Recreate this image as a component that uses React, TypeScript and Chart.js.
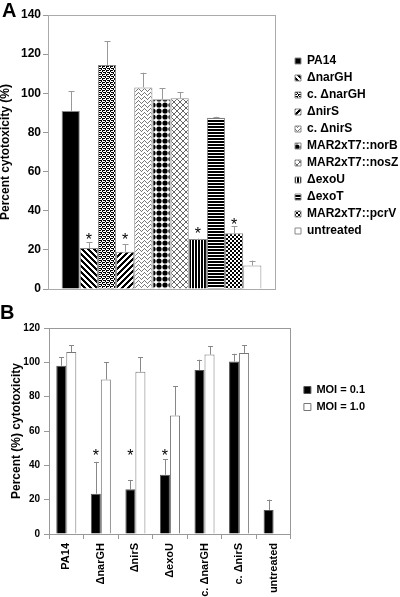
import React, { useEffect, useRef } from 'react';
import { Chart, registerables } from 'chart.js';

Chart.register(...registerables);

const FONT = "'Liberation Sans', Arial, Helvetica, sans-serif";

// ---------- Panel A data ----------
const strainsA = [
  'PA14',
  'ΔnarGH',
  'c. ΔnarGH',
  'ΔnirS',
  'c. ΔnirS',
  'MAR2xT7::norB',
  'MAR2xT7::nosZ',
  'ΔexoU',
  'ΔexoT',
  'MAR2xT7::pcrV',
  'untreated',
];
const cytotoxicityA = [91, 21, 114.5, 19, 103, 97, 97.5, 25.5, 87.5, 28.5, 12];
const errorA = [10, 3, 12, 4, 7.5, 5.5, 3, 0.3, 0.5, 3.5, 2.5];
const starLevelA = [null, 27, null, 27, null, null, null, 30, null, 35, null];
const yMaxA = 140;
const yStepA = 20;

// ---------- Panel B data ----------
const categoriesB = ['PA14', 'ΔnarGH', 'ΔnirS', 'ΔexoU', 'c. ΔnarGH', 'c. ΔnirS', 'untreated'];
const seriesNamesB = ['MOI = 0.1', 'MOI = 1.0'];
const moiLow = [98, 23.5, 26, 34.5, 95.5, 100.5, 14];
const moiLowErr = [5, 18.5, 5.5, 9, 6, 4.5, 6];
const moiHigh = [106, 90, 94.5, 69, 104.5, 105.5, null];
const moiHighErr = [4, 10, 8.5, 17, 5, 4.5, null];
const starLevelB = [null, 48, 48, 48, null, null, null];
const yMaxB = 120;
const yStepB = 20;

// ---------- pattern helpers ----------
function tile(w: number, h: number, draw: (c: CanvasRenderingContext2D) => void): CanvasPattern {
  const cv = document.createElement('canvas');
  cv.width = w;
  cv.height = h;
  const c = cv.getContext('2d')!;
  c.fillStyle = '#fff';
  c.fillRect(0, 0, w, h);
  draw(c);
  return c.createPattern(cv, 'repeat')!;
}

function fromRows(rows: string[], color = '#000'): CanvasPattern {
  const h = rows.length;
  const w = rows[0].length;
  return tile(w, h, (c) => {
    c.fillStyle = color;
    rows.forEach((r, y) => {
      for (let x = 0; x < w; x++) if (r[x] === 'X') c.fillRect(x, y, 1, 1);
    });
  });
}

function makeFills(): (string | CanvasPattern)[] {
  const back: string[] = [];
  const fwd: string[] = [];
  for (let y = 0; y < 6; y++) {
    let a = '';
    let b = '';
    for (let x = 0; x < 6; x++) {
      a += ((x - y + 12) % 6) < 3 ? 'X' : '.';
      b += ((x + y) % 6) < 3 ? 'X' : '.';
    }
    back.push(a);
    fwd.push(b);
  }
  const confetti = fromRows(['XX.X', '.X..', 'X.XX', '..X.']);
  const zigzag = fromRows(['X.....', '.X...X', '..X.X.', '...X..'], '#777');
  const dots = tile(6, 6, (c) => {
    c.fillStyle = '#000';
    c.beginPath();
    c.arc(3, 3, 2.6, 0, Math.PI * 2);
    c.fill();
  });
  const cross = fromRows(['X....X', '.X..X.', '..XX..', '..XX..', '.X..X.', 'X....X'], '#666');
  const vert = fromRows(['XX.']);
  const horiz = fromRows(['X', 'X', '.']);
  const checker = fromRows(['XX..', 'XX..', '..XX', '..XX']);
  return [
    '#000',
    fromRows(back),
    confetti,
    fromRows(fwd),
    zigzag,
    dots,
    cross,
    vert,
    horiz,
    checker,
    '#fff',
  ];
}

function makeErrorPlugin(
  errs: (number | null)[][],
  stars: (number | null)[][],
  color: string,
  cap: number
) {
  return {
    id: 'errorBarsAndStars',
    afterDatasetsDraw(chart: any) {
      const { ctx } = chart;
      const yScale = chart.scales.y;
      ctx.save();
      chart.data.datasets.forEach((ds: any, di: number) => {
        const meta = chart.getDatasetMeta(di);
        meta.data.forEach((bar: any, j: number) => {
          const v = ds.data[j];
          if (v == null) return;
          const e = errs[di]?.[j];
          if (e) {
            const top = yScale.getPixelForValue(v + e);
            const x = Math.round(bar.x) + 0.5;
            ctx.strokeStyle = color;
            ctx.lineWidth = 1;
            ctx.beginPath();
            ctx.moveTo(x, bar.y);
            ctx.lineTo(x, top);
            ctx.moveTo(x - cap, Math.round(top) + 0.5);
            ctx.lineTo(x + cap, Math.round(top) + 0.5);
            ctx.stroke();
          }
          const s = stars[di]?.[j];
          if (s != null) {
            ctx.fillStyle = '#000';
            ctx.font = `16px ${FONT}`;
            ctx.textAlign = 'center';
            ctx.textBaseline = 'alphabetic';
            ctx.fillText('*', bar.x, yScale.getPixelForValue(s) + 9);
          }
        });
      });
      ctx.restore();
    },
  };
}

const bold = (size: number, lineHeight?: number) =>
  lineHeight ? { family: FONT, size, weight: 'bold' as const, lineHeight } : { family: FONT, size, weight: 'bold' as const };

export default function App() {
  const refA = useRef<HTMLCanvasElement>(null);
  const refB = useRef<HTMLCanvasElement>(null);

  useEffect(() => {
    const fills = makeFills();

    const chartA = new Chart(refA.current!, {
      type: 'bar',
      data: {
        labels: [''],
        datasets: strainsA.map((name, i) => ({
          label: name,
          data: [cytotoxicityA[i]],
          backgroundColor: fills[i] as any,
          borderColor: '#888',
          borderWidth: 1,
          xAxisID: 'x',
          yAxisID: 'y',
          categoryPercentage: 0.88,
          barPercentage: 1,
        })),
      },
      options: {
        responsive: false,
        animation: false,
        devicePixelRatio: 1,
        layout: { padding: 0 },
        plugins: {
          tooltip: { enabled: false },
          legend: {
            position: 'right',
            align: 'start',
            maxWidth: 110,
            title: { display: true, text: ' ', font: { size: 10, lineHeight: 1 }, padding: { top: 40, bottom: 0 } },
            labels: { boxWidth: 6, boxHeight: 6, padding: 5, color: '#000', font: bold(12) },
          },
        },
        scales: {
          x: {
            axis: 'x',
            type: 'category',
            position: 'bottom',
            grid: { display: false },
            ticks: { display: false },
            border: { display: true, color: '#aaa' },
            afterFit: (s: any) => { s.height = 11; },
          },
          xTop: {
            axis: 'x',
            type: 'category',
            position: 'top',
            grid: { display: false },
            ticks: { display: false },
            border: { display: true, color: '#aaa' },
            afterFit: (s: any) => { s.height = 15; },
          },
          y: {
            axis: 'y',
            position: 'left',
            min: 0,
            max: yMaxA,
            ticks: { stepSize: yStepA, color: '#000', font: bold(12), padding: 2 },
            grid: { drawOnChartArea: false, tickLength: 5, color: '#999' },
            border: { color: '#aaa' },
            title: {
              display: true,
              text: 'Percent cytotoxicity (%)',
              color: '#000',
              font: bold(12, 1),
              padding: { top: 0, bottom: 0 },
            },
            afterFit: (s: any) => { s.width = 48; },
          },
          yRight: {
            axis: 'y',
            position: 'right',
            grid: { display: false },
            ticks: { display: false },
            border: { display: true, color: '#aaa' },
            afterFit: (s: any) => { s.width = 15; },
          },
        },
      } as any,
      plugins: [
        makeErrorPlugin(
          errorA.map((e) => [e]),
          starLevelA.map((s) => [s]),
          '#999',
          3
        ),
      ],
    });

    const chartB = new Chart(refB.current!, {
      type: 'bar',
      data: {
        labels: categoriesB,
        datasets: [
          {
            label: seriesNamesB[0],
            data: moiLow,
            backgroundColor: '#000',
            borderColor: '#555',
            borderWidth: 1,
            xAxisID: 'x',
            yAxisID: 'y',
            categoryPercentage: 0.58,
            barPercentage: 1,
          },
          {
            label: seriesNamesB[1],
            data: moiHigh,
            backgroundColor: '#fff',
            borderColor: '#777',
            borderWidth: 1,
            xAxisID: 'x',
            yAxisID: 'y',
            categoryPercentage: 0.58,
            barPercentage: 1,
          },
        ],
      },
      options: {
        responsive: false,
        animation: false,
        devicePixelRatio: 1,
        layout: { padding: { right: 25, left: 0, top: 0, bottom: 0 } },
        plugins: {
          tooltip: { enabled: false },
          legend: {
            position: 'right',
            align: 'start',
            maxWidth: 200,
            title: { display: true, text: ' ', font: { size: 10, lineHeight: 1 }, padding: { top: 68.5, bottom: 0 } },
            labels: { boxWidth: 7, boxHeight: 7, padding: 6, color: '#000', font: bold(11) },
          },
        },
        scales: {
          x: {
            axis: 'x',
            type: 'category',
            position: 'bottom',
            grid: { display: true, drawOnChartArea: false, tickLength: 5, color: '#999', offset: true },
            ticks: { color: '#000', font: bold(11), minRotation: 90, maxRotation: 90, padding: 4, autoSkip: false },
            border: { display: true, color: '#999' },
            afterFit: (s: any) => { s.height = 63; },
          },
          xTop: {
            axis: 'x',
            type: 'category',
            position: 'top',
            grid: { display: false },
            ticks: { display: false },
            border: { display: true, color: '#999' },
            afterFit: (s: any) => { s.height = 28; },
          },
          y: {
            axis: 'y',
            position: 'left',
            min: 0,
            max: yMaxB,
            ticks: { stepSize: yStepB, color: '#000', font: bold(10), padding: 4 },
            grid: { drawOnChartArea: false, tickLength: 5, color: '#999' },
            border: { color: '#999' },
            title: {
              display: true,
              text: 'Percent (%) cytotoxicity',
              color: '#000',
              font: bold(12, 1),
              padding: { top: 11, bottom: 0 },
            },
            afterFit: (s: any) => { s.width = 49; },
          },
          yRight: {
            axis: 'y',
            position: 'right',
            grid: { display: false },
            ticks: { display: false },
            border: { display: true, color: '#999' },
            afterFit: (s: any) => { s.width = 7; },
          },
        },
      } as any,
      plugins: [
        makeErrorPlugin(
          [moiLowErr, moiHighErr],
          [starLevelB, []],
          '#888',
          2.5
        ),
      ],
    });

    return () => {
      chartA.destroy();
      chartB.destroy();
    };
  }, []);

  const letter: React.CSSProperties = {
    position: 'absolute',
    fontFamily: FONT,
    fontWeight: 'bold',
    fontSize: 20,
    lineHeight: '20px',
    color: '#000',
  };

  return (
    <div style={{ position: 'absolute', left: 0, top: 0, width: 400, height: 597, background: '#fff' }}>
      <canvas ref={refA} width={400} height={300} style={{ position: 'absolute', left: 0, top: 0, display: 'block' }} />
      <canvas ref={refB} width={400} height={297} style={{ position: 'absolute', left: 0, top: 300, display: 'block' }} />
      <div style={{ ...letter, left: 2, top: 0 }}>A</div>
      <div style={{ ...letter, left: 0, top: 302 }}>B</div>
    </div>
  );
}
